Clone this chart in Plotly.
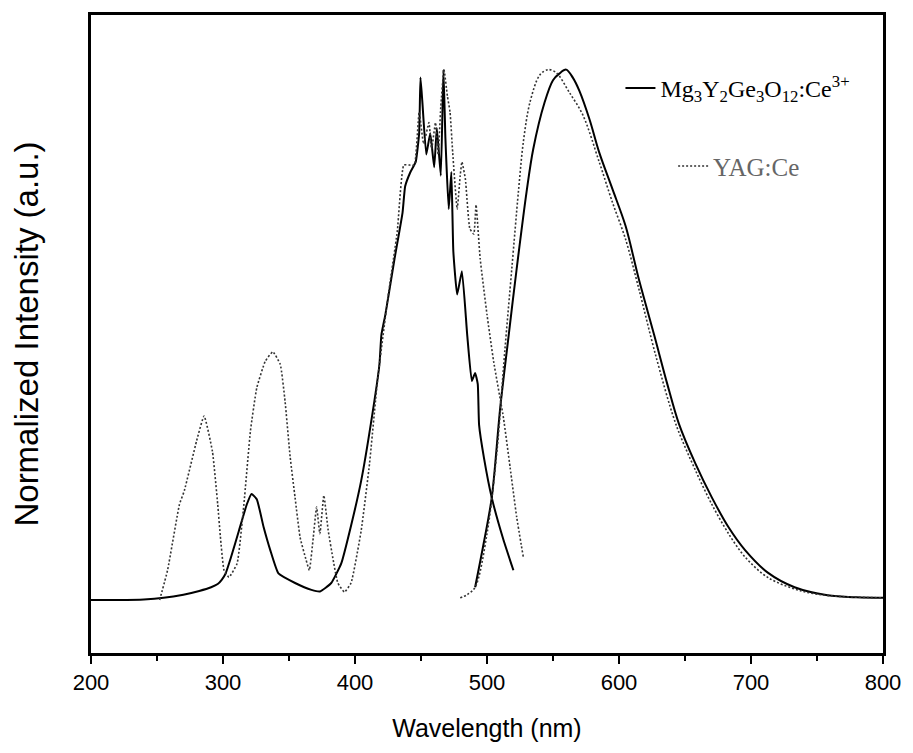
import plotly.graph_objects as go

# Mg3Y2Ge3O12:Ce3+ excitation
mg_ex_nm = [200, 220, 240, 255, 270, 282, 291, 296, 299, 302, 306, 312, 318, 321.6, 325.6, 330.8, 335.8, 342, 354.6,
            367, 373.5, 382, 389.6, 397, 404.7, 412, 418.5, 420, 423, 430, 436, 438, 442, 446, 448.6, 449.6, 451, 454,
            457, 460, 462, 465, 467, 468.5, 471, 473, 474.5, 477.4, 481, 485, 488.5, 491, 493, 494, 497.7, 503.6,
            512.5, 520]
mg_ex_val = [0, 0, 0.001, 0.004, 0.01, 0.017, 0.024, 0.03, 0.038, 0.05, 0.08, 0.13, 0.18, 0.20, 0.19, 0.137, 0.094,
             0.05, 0.032, 0.019, 0.016, 0.032, 0.069, 0.14, 0.225, 0.332, 0.444, 0.50, 0.538, 0.644, 0.73, 0.78, 0.807,
             0.826, 0.88, 0.985, 0.94, 0.84, 0.88, 0.816, 0.89, 0.80, 1.0, 0.87, 0.737, 0.807, 0.657, 0.576, 0.62,
             0.50, 0.413, 0.428, 0.407, 0.33, 0.268, 0.193, 0.113, 0.056]
# Mg3Y2Ge3O12:Ce3+ emission
mg_em_nm = [491, 497.5, 503.6, 510, 516, 522.5, 530, 535, 543.6, 550, 555, 560, 565, 570, 577.7, 585, 595, 605, 615,
            626.6, 636.6, 645.4, 657.9, 670.4, 683, 695.5, 713, 733, 758, 780, 800]
mg_em_val = [0.024, 0.107, 0.193, 0.362, 0.49, 0.625, 0.77, 0.85, 0.938, 0.98, 0.993, 1.0, 0.985, 0.96, 0.906, 0.844,
             0.775, 0.705, 0.605, 0.50, 0.407, 0.332, 0.257, 0.193, 0.137, 0.094, 0.051, 0.024, 0.009, 0.005, 0.004]
# YAG:Ce excitation
yag_ex_nm = [252, 258, 267, 270.7, 280, 285.7, 292, 296, 298, 300.8, 304.5, 310.7, 315.8, 320.8, 325.6, 332, 337.8,
             343.4, 347, 350.9, 354.6, 358.4, 363, 365.4, 368.4, 370.9, 373.4, 376.4, 379.7, 383.5, 387, 392, 397,
             404.7, 411, 417, 424.8, 432, 437, 442, 445, 448.6, 452, 456, 458, 461, 463, 465, 467.4, 470, 472, 474,
             477.4, 479.7, 481, 483.6, 487, 490, 491.7, 494.8, 500, 505, 512.5, 517.5, 522.5, 527.5]
yag_ex_val = [0, 0.056, 0.18, 0.206, 0.30, 0.347, 0.28, 0.18, 0.12, 0.056, 0.043, 0.069, 0.18, 0.319, 0.40, 0.45,
              0.468, 0.444, 0.375, 0.269, 0.193, 0.118, 0.075, 0.056, 0.118, 0.175, 0.125, 0.197, 0.131, 0.075, 0.032,
              0.015, 0.032, 0.131, 0.257, 0.413, 0.568, 0.694, 0.82, 0.82, 0.82, 0.92, 0.86, 0.90, 0.85, 0.90, 0.84,
              0.93, 1.0, 0.95, 0.92, 0.844, 0.737, 0.80, 0.826, 0.794, 0.70, 0.69, 0.745, 0.644, 0.538, 0.45, 0.343,
              0.25, 0.156, 0.081]
# YAG:Ce emission
yag_em_nm = [479.7, 485, 491, 500, 507.5, 513.5, 518.8, 523.8, 527.5, 532.5, 540, 546.4, 552.6, 562.4, 572.7, 585,
             595, 605, 615, 627.6, 643, 658, 670.4, 683, 695.5, 713, 738, 760, 800]
yag_em_val = [0.004, 0.01, 0.024, 0.125, 0.28, 0.47, 0.625, 0.77, 0.863, 0.938, 0.99, 1.0, 0.994, 0.957, 0.914,
              0.826, 0.75, 0.68, 0.587, 0.463, 0.332, 0.244, 0.18, 0.125, 0.081, 0.042, 0.017, 0.008, 0.004]

x_ticks = [200, 300, 400, 500, 600, 700, 800]
names = ["Mg<sub>3</sub>Y<sub>2</sub>Ge<sub>3</sub>O<sub>12</sub>:Ce<sup>3+</sup>", "YAG:Ce"]

solid = dict(color="black", width=2)
dotted = dict(color="#333333", width=1.6, dash="2px,2px")

fig = go.Figure()
fig.add_trace(go.Scatter(x=mg_ex_nm, y=mg_ex_val, mode="lines", name=names[0], legend="legend",
                         line=dict(**solid, shape="spline", smoothing=0.4), showlegend=True))
fig.add_trace(go.Scatter(x=mg_em_nm, y=mg_em_val, mode="lines", name=names[0], legend="legend",
                         line=dict(**solid, shape="spline", smoothing=0.9), showlegend=False))
fig.add_trace(go.Scatter(x=yag_ex_nm, y=yag_ex_val, mode="lines", name=names[1], legend="legend2",
                         line=dict(**dotted, shape="spline", smoothing=0.4), showlegend=True))
fig.add_trace(go.Scatter(x=yag_em_nm, y=yag_em_val, mode="lines", name=names[1], legend="legend2",
                         line=dict(**dotted, shape="spline", smoothing=0.9), showlegend=False))

serif = "Liberation Serif"
sans = "Liberation Sans"
fig.update_layout(
    width=913, height=753,
    margin=dict(l=91, r=24, t=12, b=100),
    plot_bgcolor="white", paper_bgcolor="white",
    showlegend=True,
    font=dict(family=sans, color="black"),
    legend=dict(x=0.6685, y=0.885, xanchor="left", yanchor="middle", bgcolor="rgba(0,0,0,0)",
                font=dict(family=serif, size=24, color="black"), itemwidth=30),
    legend2=dict(x=0.735, y=0.763, xanchor="left", yanchor="middle", bgcolor="rgba(0,0,0,0)",
                 font=dict(family=serif, size=25, color="#666666"), itemwidth=30),
)
fig.update_xaxes(range=[200, 800], tickvals=x_ticks, ticks="outside", ticklen=8, tickwidth=2, tickcolor="black",
                 minor=dict(dtick=50, ticks="outside", ticklen=5, tickwidth=2, tickcolor="black"),
                 showline=True, linewidth=2.5, linecolor="black", mirror=True, showgrid=False, zeroline=False,
                 tickfont=dict(family=sans, size=22),
                 title=dict(text="Wavelength (nm)", font=dict(family=sans, size=25), standoff=26))
fig.update_yaxes(range=[-0.1, 1.103], showticklabels=False, ticks="",
                 showline=True, linewidth=2.5, linecolor="black", mirror=True, showgrid=False, zeroline=False,
                 title=dict(text="Normalized Intensity (a.u.)", font=dict(family=sans, size=33), standoff=40))

fig.write_html("out.html")
